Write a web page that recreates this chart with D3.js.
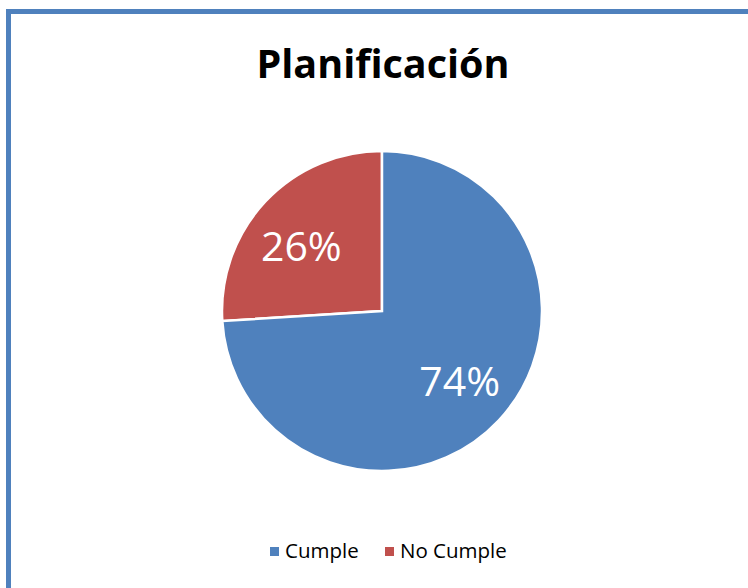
<!DOCTYPE html>
<html>
<head>
<meta charset="utf-8">
<script src="https://cdn.jsdelivr.net/npm/d3@7"></script>
<style>
  body { margin: 0; background: #fff; }
  svg { display: block; font-family: "Open Sans", "DejaVu Sans", sans-serif; }
</style>
</head>
<body>
<div id="chart"></div>
<script>
var categories = ["No Cumple", "Cumple"];
var values = [26, 74];
var colors = ["#C0504D", "#4F81BD"];
var legendOrder = ["Cumple", "No Cumple"];
var title = "Planificación";

var width = 748, height = 588;
var cx = 382, cy = 311, radius = 160;

var svg = d3.select("#chart").append("svg")
    .attr("width", width)
    .attr("height", height);

// frame border (right and bottom sides fall outside the picture)
svg.append("rect")
    .attr("x", 8.5).attr("y", 11.5)
    .attr("width", width + 20).attr("height", height + 20)
    .attr("fill", "none")
    .attr("stroke", "#4F81BD")
    .attr("stroke-width", 5);

svg.append("text")
    .attr("x", 383).attr("y", 78)
    .attr("text-anchor", "middle")
    .attr("font-size", 39.5)
    .attr("font-weight", "bold")
    .attr("fill", "#000")
    .text(title);

var color = d3.scaleOrdinal().domain(categories).range(colors);

var pie = d3.pie().sort(null).value(function(d, i) { return values[i]; })
    .startAngle(-values[0] / 100 * 2 * Math.PI)
    .endAngle(2 * Math.PI - values[0] / 100 * 2 * Math.PI);
var arcs = pie(categories);

var arc = d3.arc().innerRadius(0).outerRadius(radius);
var labelArc = d3.arc().innerRadius(radius * 0.64).outerRadius(radius * 0.64);

var g = svg.append("g").attr("transform", "translate(" + cx + "," + cy + ")");

g.selectAll("path.slice")
    .data(arcs)
    .enter().append("path")
    .attr("class", "slice")
    .attr("d", arc)
    .attr("fill", function(d) { return color(d.data); })
    .attr("stroke", "#fff")
    .attr("stroke-width", 2.5);

g.selectAll("text.lbl")
    .data(arcs)
    .enter().append("text")
    .attr("class", "lbl")
    .attr("transform", function(d) {
        var c = labelArc.centroid(d);
        // Excel places the small slice label a bit further out to the left
        if (d.index === 0) { c[0] -= 6; c[1] += 5; }
        else { c[0] += 3; }
        return "translate(" + c + ")";
    })
    .attr("text-anchor", "middle")
    .attr("dy", "0.36em")
    .attr("font-size", 41)
    .attr("fill", "#fff")
    .text(function(d) { return d.value + "%"; });

// legend
var legendX = [270, 385];
var legend = svg.selectAll("g.leg")
    .data(legendOrder)
    .enter().append("g")
    .attr("class", "leg")
    .attr("transform", function(d, i) { return "translate(" + legendX[i] + ",551)"; });

legend.append("rect")
    .attr("x", 0).attr("y", -4)
    .attr("width", 9).attr("height", 9)
    .attr("fill", function(d) { return color(d); });

legend.append("text")
    .attr("x", 15).attr("y", 0)
    .attr("dy", "0.35em")
    .attr("font-size", 20.5)
    .attr("fill", "#000")
    .text(function(d) { return d; });
</script>
</body>
</html>
